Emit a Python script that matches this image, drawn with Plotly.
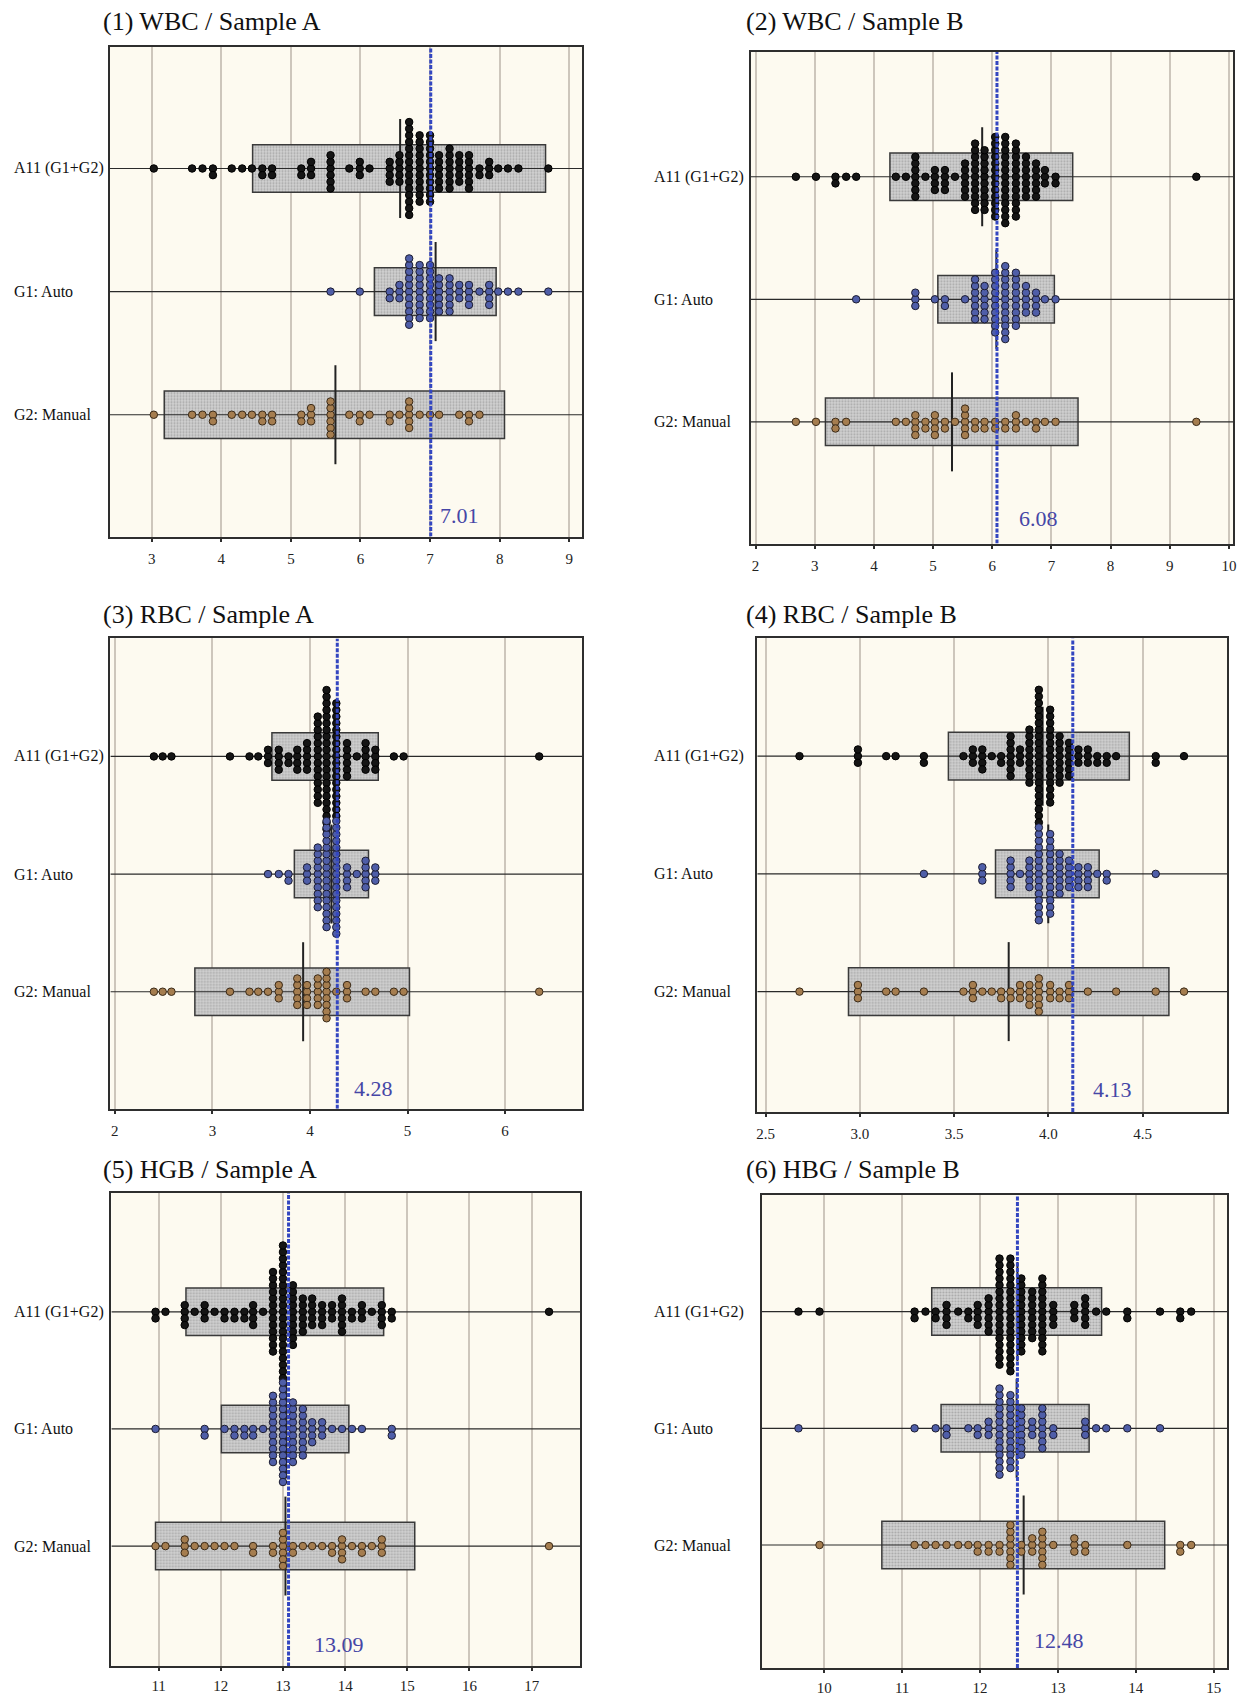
import plotly.graph_objects as go

# page body has an 8px margin: figure is drawn at (8, 8) in the window
OFF = 8
W, H = 1249 - 2 * OFF, 1704 - 2 * OFF

# ---------------- data ----------------
titles = ["(1) WBC / Sample A", "(2) WBC / Sample B", "(3) RBC / Sample A",
          "(4) RBC / Sample B", "(5) HGB / Sample A", "(6) HBG / Sample B"]
categories = ["A11 (G1+G2)", "G1: Auto", "G2: Manual"]
cat_pos = [3, 2, 1]
ref_values = [7.01, 6.08, 4.28, 4.13, 13.09, 12.48]

# panel 1 : WBC / Sample A
p1_bins = [3.03, 3.58, 3.73, 3.88, 4.15, 4.30, 4.44, 4.59, 4.73, 5.15, 5.29, 5.57, 5.84, 5.99, 6.13,
           6.42, 6.56, 6.70, 6.85, 7.00, 7.13, 7.28, 7.42, 7.56, 7.71, 7.85, 7.98, 8.12, 8.27, 8.70]
p1_all = [1, 1, 1, 2, 1, 1, 1, 2, 2, 2, 3, 6, 1, 3, 1, 4, 5, 15, 11, 11, 6, 7, 5, 6, 2, 3, 1, 1, 1, 1]
p1_g1 = [0, 0, 0, 0, 0, 0, 0, 0, 0, 0, 0, 1, 0, 1, 0, 2, 3, 11, 9, 9, 6, 6, 3, 4, 1, 4, 1, 1, 1, 1]
p1_g2 = [1, 1, 1, 2, 1, 1, 1, 2, 2, 2, 3, 6, 1, 2, 1, 2, 1, 5, 1, 1, 1, 0, 1, 2, 1, 0, 0, 0, 0, 0]
p1_lo = [4.45, 6.20, 3.18]
p1_hi = [8.66, 7.95, 8.07]
p1_mean = [6.57, 7.08, 5.64]

# panel 2 : WBC / Sample B
p2_bins = [2.68, 3.02, 3.35, 3.53, 3.70, 4.37, 4.54, 4.70, 4.87, 5.03, 5.20, 5.37, 5.54, 5.71, 5.87,
           6.05, 6.22, 6.40, 6.57, 6.74, 6.89, 7.07, 9.45]
p2_all = [1, 1, 2, 1, 1, 1, 1, 7, 1, 4, 4, 1, 6, 11, 10, 13, 14, 12, 7, 6, 3, 2, 1]
p2_g1 = [0, 0, 0, 0, 1, 0, 0, 3, 0, 1, 2, 0, 1, 7, 6, 10, 12, 9, 5, 4, 1, 1, 0]
p2_g2 = [1, 1, 2, 1, 0, 1, 1, 4, 2, 4, 2, 1, 5, 2, 2, 2, 2, 3, 1, 2, 1, 1, 1]
p2_lo = [4.27, 5.08, 3.18]
p2_hi = [7.36, 7.05, 7.45]
p2_mean = [5.83, 6.07, 5.32]

# panel 3 : RBC / Sample A
p3_bins = [2.40, 2.49, 2.58, 3.18, 3.38, 3.47, 3.57, 3.68, 3.78, 3.87, 3.97, 4.08, 4.17, 4.27,
           4.38, 4.48, 4.57, 4.67, 4.86, 4.96, 6.35]
p3_all = [1, 1, 1, 1, 1, 1, 3, 4, 2, 4, 5, 14, 22, 18, 6, 1, 5, 4, 1, 1, 1]
p3_g1 = [0, 0, 0, 0, 0, 0, 1, 1, 2, 0, 3, 10, 17, 18, 4, 1, 5, 3, 0, 0, 0]
p3_g2 = [1, 1, 1, 1, 1, 1, 1, 3, 0, 5, 4, 5, 8, 1, 3, 0, 1, 1, 1, 1, 1]
p3_lo = [3.61, 3.84, 2.82]
p3_hi = [4.70, 4.60, 5.02]
p3_mean = [4.17, 4.22, 3.93]

# panel 4 : RBC / Sample B
p4_bins = [2.68, 2.99, 3.14, 3.19, 3.34, 3.55, 3.60, 3.65, 3.70, 3.75, 3.80, 3.85, 3.90, 3.95,
           4.01, 4.06, 4.11, 4.16, 4.21, 4.26, 4.31, 4.36, 4.57, 4.72]
p4_all = [1, 3, 1, 1, 2, 1, 3, 4, 1, 2, 7, 3, 9, 21, 15, 8, 6, 3, 3, 2, 2, 1, 2, 1]
p4_g1 = [0, 0, 0, 0, 1, 0, 0, 3, 0, 0, 5, 1, 5, 15, 13, 7, 5, 4, 4, 1, 2, 0, 1, 0]
p4_g2 = [1, 3, 1, 1, 1, 1, 3, 1, 1, 2, 2, 3, 4, 6, 3, 2, 3, 0, 1, 0, 0, 1, 1, 1]
p4_lo = [3.47, 3.72, 2.94]
p4_hi = [4.43, 4.27, 4.64]
p4_mean = [3.97, 4.00, 3.79]

# panel 5 : HGB / Sample A
p5_bins = [10.95, 11.11, 11.42, 11.58, 11.74, 11.90, 12.06, 12.22, 12.38, 12.52, 12.68, 12.84,
           13.00, 13.16, 13.32, 13.47, 13.63, 13.79, 13.95, 14.11, 14.27, 14.43, 14.59, 14.75, 17.28]
p5_all = [2, 1, 4, 1, 3, 1, 2, 2, 2, 4, 1, 13, 21, 10, 6, 5, 4, 3, 6, 2, 3, 1, 4, 2, 1]
p5_g1 = [1, 0, 0, 0, 2, 0, 1, 2, 2, 2, 1, 11, 16, 10, 8, 4, 3, 1, 1, 1, 1, 0, 0, 2, 0]
p5_g2 = [1, 1, 3, 1, 1, 1, 1, 1, 0, 2, 0, 2, 6, 2, 1, 1, 1, 2, 4, 1, 2, 1, 3, 0, 1]
p5_lo = [11.44, 12.01, 10.95]
p5_hi = [14.62, 14.06, 15.12]
p5_mean = [13.00, 13.05, 13.04]

# panel 6 : HBG / Sample B
p6_bins = [9.67, 9.94, 11.16, 11.30, 11.43, 11.57, 11.72, 11.85, 11.97, 12.11, 12.25, 12.39,
           12.53, 12.67, 12.80, 12.94, 13.21, 13.35, 13.49, 13.62, 13.89, 14.31, 14.57, 14.71]
p6_all = [1, 1, 2, 1, 2, 4, 1, 2, 4, 6, 17, 18, 12, 8, 12, 4, 3, 5, 1, 1, 2, 1, 2, 1]
p6_g1 = [1, 0, 1, 0, 1, 2, 0, 1, 2, 3, 14, 12, 8, 3, 7, 2, 0, 3, 1, 1, 1, 1, 0, 0]
p6_g2 = [0, 1, 1, 1, 1, 1, 1, 1, 2, 2, 2, 7, 2, 3, 6, 1, 3, 2, 0, 0, 1, 0, 2, 1]
p6_lo = [11.38, 11.50, 10.74]
p6_hi = [13.56, 13.40, 14.37]
p6_mean = [12.48, 12.47, 12.56]

x_ticks = [[3, 4, 5, 6, 7, 8, 9], [2, 3, 4, 5, 6, 7, 8, 9, 10], [2, 3, 4, 5, 6],
           [2.5, 3.0, 3.5, 4.0, 4.5], [11, 12, 13, 14, 15, 16, 17], [10, 11, 12, 13, 14, 15]]
x_ticktext = [["3", "4", "5", "6", "7", "8", "9"], ["2", "3", "4", "5", "6", "7", "8", "9", "10"],
              ["2", "3", "4", "5", "6"], ["2.5", "3.0", "3.5", "4.0", "4.5"],
              ["11", "12", "13", "14", "15", "16", "17"], ["10", "11", "12", "13", "14", "15"]]

panels_data = [
    (p1_bins, p1_all, p1_g1, p1_g2, p1_lo, p1_hi, p1_mean),
    (p2_bins, p2_all, p2_g1, p2_g2, p2_lo, p2_hi, p2_mean),
    (p3_bins, p3_all, p3_g1, p3_g2, p3_lo, p3_hi, p3_mean),
    (p4_bins, p4_all, p4_g1, p4_g2, p4_lo, p4_hi, p4_mean),
    (p5_bins, p5_all, p5_g1, p5_g2, p5_lo, p5_hi, p5_mean),
    (p6_bins, p6_all, p6_g1, p6_g2, p6_lo, p6_hi, p6_mean),
]

# ---------------- layout / style (window pixel coordinates) ----------------
frames = [(109.3, 583.3, 47, 542), (752.3, 1236, 52.2, 549), (109.7, 583, 644.8, 1120),
          (758.7, 1230.3, 644.8, 1123.3), (110.7, 581.3, 1204.8, 1683.3), (763.3, 1230, 1207, 1685)]
xranges = [(2.40, 9.19), (1.92, 10.07), (1.954, 6.79), (2.456, 4.95), (10.24, 17.785), (9.20, 15.17)]
yranges = [(0.01, 3.99), (0.007, 4.02), (0.005, 4.003), (-0.023, 4.0), (-0.027, 4.016), (-0.055, 4.0)]
title_pos = [(100, 22), (745, 22), (100, 621), (745, 621), (100, 1181), (745, 1181)]
cat_label_x = [11, 653, 11, 653, 11, 653]
ref_label = [(7, 21), (20, 25), (15, 21), (18, 23), (23, 22), (15, 28)]
tick_standoff = [4, 4, 4, 4, 2, 2]

SERIF = "Liberation Serif"
BG = "#fdfaf0"
GRID = "#cdc6bc"
FRAME = "#2e2e2e"
DOT_STEP_PX = 6.7
BOX_PX = 48
MEAN_PX = 100
group_fill = ["#151515", "#4f5ea8", "#a57d4f"]
group_line = ["#000000", "#1c1c30", "#3a2a18"]


def stack_offsets(n):
    seq = [0]
    k = 1
    while len(seq) < n:
        seq.append(-k)
        seq.append(k)
        k += 1
    return seq[:n]


fig = go.Figure()
annotations = []
layout_axes = {}

for i in range(6):
    idx = i + 1
    xa = "x" if idx == 1 else f"x{idx}"
    ya = "y" if idx == 1 else f"y{idx}"
    L, R, T, B = [v - OFF for v in frames[i]]
    y0, y1 = yranges[i]
    xr0, xr1 = xranges[i]
    ppu = (B - T) / (y1 - y0)
    bins, g_all, g1, g2, lo, hi, mean = panels_data[i]

    # category base lines
    cx, cy = [], []
    for c in cat_pos:
        cx += [xr0, xr1, None]
        cy += [c, c, None]
    fig.add_trace(go.Scatter(x=cx, y=cy, mode="lines", line=dict(color="#2a2a2a", width=1.2),
                             xaxis=xa, yaxis=ya, showlegend=False, hoverinfo="skip"))

    # boxes (mean +/- 2SD)
    fig.add_trace(go.Bar(
        orientation="h", y=cat_pos, base=lo, x=[h - l for l, h in zip(lo, hi)],
        width=BOX_PX / ppu, xaxis=xa, yaxis=ya, showlegend=False, hoverinfo="skip",
        marker=dict(color="#cbcbcb", line=dict(color="#3a3a3a", width=1.5),
                    pattern=dict(shape=".", fgcolor="#7c7c7c", bgcolor="#d2d2d2", size=3, solidity=0.4))))

    # mean lines
    mx, my = [], []
    half = MEAN_PX / 2 / ppu
    for m, c in zip(mean, cat_pos):
        mx += [m, m, None]
        my += [c - half, c + half, None]
    fig.add_trace(go.Scatter(x=mx, y=my, mode="lines", line=dict(color="#222222", width=2),
                             xaxis=xa, yaxis=ya, showlegend=False, hoverinfo="skip"))

    # dots
    step = DOT_STEP_PX / ppu
    for gi, counts in enumerate([g_all, g1, g2]):
        dx, dy = [], []
        for v, n in zip(bins, counts):
            for o in stack_offsets(n):
                dx.append(v)
                dy.append(cat_pos[gi] + o * step)
        fig.add_trace(go.Scatter(
            x=dx, y=dy, mode="markers", xaxis=xa, yaxis=ya, showlegend=False, hoverinfo="skip",
            marker=dict(symbol="circle", size=7.5, color=group_fill[gi],
                        line=dict(color=group_line[gi], width=1))))

    # reference line
    rv = ref_values[i]
    fig.add_trace(go.Scatter(x=[rv, rv], y=[y0, y1], mode="lines", xaxis=xa, yaxis=ya,
                             line=dict(color="#3346c0", width=3, dash="4px,1.5px"),
                             showlegend=False, hoverinfo="skip"))
    gap, above = ref_label[i]
    annotations.append(dict(text=f"{rv:.2f}", x=rv, y=y0 + above / ppu, xref=xa, yref=ya,
                            xanchor="left", yanchor="middle", xshift=gap, showarrow=False,
                            font=dict(family=SERIF, size=22, color="#4646a6")))

    # category labels
    for name, c in zip(categories, cat_pos):
        annotations.append(dict(text=name, x=(cat_label_x[i] - OFF) / W, y=c, xref="paper", yref=ya,
                                xanchor="left", yanchor="middle", showarrow=False,
                                font=dict(family=SERIF, size=16, color="#111111")))

    # title
    tx, ty = title_pos[i]
    annotations.append(dict(text=titles[i], x=(tx - OFF) / W, y=1 - (ty - OFF) / H,
                            xref="paper", yref="paper", xanchor="left", yanchor="middle",
                            showarrow=False, font=dict(family=SERIF, size=26, color="#111111")))

    xkey = "xaxis" if idx == 1 else f"xaxis{idx}"
    ykey = "yaxis" if idx == 1 else f"yaxis{idx}"
    layout_axes[xkey] = dict(
        domain=[L / W, R / W], anchor=ya, range=[xr0, xr1],
        tickvals=x_ticks[i], ticktext=x_ticktext[i], showgrid=True, gridcolor=GRID, gridwidth=1.5,
        zeroline=False, showline=True, linecolor=FRAME, linewidth=2, mirror=True,
        ticks="outside", ticklen=3, tickwidth=1.5, tickcolor=FRAME,
        ticklabelstandoff=tick_standoff[i],
        tickfont=dict(family=SERIF, size=15, color="#222222"), fixedrange=True)
    layout_axes[ykey] = dict(
        domain=[1 - B / H, 1 - T / H], anchor=xa, range=[y0, y1], showgrid=False,
        zeroline=False, showticklabels=False, ticks="", showline=True, linecolor=FRAME,
        linewidth=2, mirror=True, fixedrange=True)

fig.update_layout(
    width=W, height=H, autosize=False, margin=dict(l=0, r=0, t=0, b=0),
    paper_bgcolor="white", plot_bgcolor=BG, showlegend=False, barmode="overlay",
    annotations=annotations, **layout_axes)

fig.write_html("out.html")
